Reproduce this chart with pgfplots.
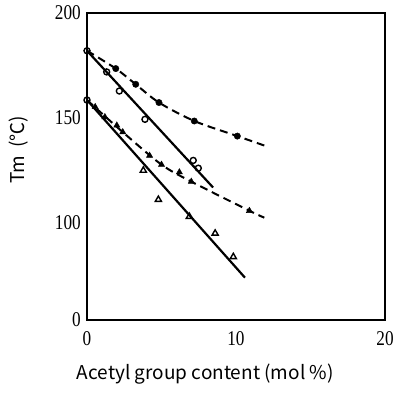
\documentclass[border=0pt]{standalone}
\usepackage{fontspec}
\setmainfont{Liberation Serif}
\newfontfamily\tickfont[FakeStretch=0.82]{Liberation Serif}
\newfontfamily\cjk{Noto Sans CJK JP}
\usepackage{pgfplots}
\pgfplotsset{compat=1.18}
\begin{document}
\begin{tikzpicture}
\begin{axis}[
  scale only axis, width=298pt, height=307pt,
  xmin=0, xmax=20, ymin=53.6, ymax=200,
  xtick={0,10,20}, xticklabels={0,10,20},
  ytick={53.6,100,150,200}, yticklabels={0,100,150,200},
  major tick length=0pt,
  axis line style={line width=2pt},
  ticklabel style={font=\tickfont\fontsize{21}{21}\selectfont, inner sep=2pt},
  xticklabel style={yshift=-9pt},
  yticklabel style={xshift=-4pt},
  xlabel={\cjk\fontsize{19}{19}\selectfont Acetyl group content (mol \%)},
  xlabel style={at={(axis description cs:0.397,0)}, anchor=north, yshift=-44pt, inner sep=0pt},
  ylabel={\cjk\fontsize{19}{19}\selectfont Tm\hspace{8pt}(℃)},
  ylabel style={at={(axis description cs:0,0.554)}, anchor=south, yshift=59pt, inner sep=0pt},
  clip=false,
]
% filled circles, dashed
\addplot[black, line width=2pt, dash pattern=on 8pt off 5pt, smooth, tension=0.5] coordinates {
 (0,182) (1.93,173.5) (3.27,166) (4.83,157.3) (7.2,148.5) (10.09,141.3) (11.9,136.8)};
\addplot[only marks, mark=*, mark size=3.2pt, black] coordinates {
 (1.93,173.5) (3.27,166) (4.83,157.3) (7.2,148.5) (10.09,141.3)};
% open circles, solid
\addplot[black, line width=2.2pt] coordinates {(0,182) (8.46,116.8)};
\addplot[only marks, mark=o, mark size=3pt, black, line width=1.4pt, mark options={fill=white}] coordinates {
 (0,182) (1.32,171.9) (2.17,162.8) (3.89,149.3) (7.13,129.7) (7.47,126)};
% filled triangles, dashed
\addplot[black, line width=2pt, dash pattern=on 8pt off 5pt, smooth, tension=0.5] coordinates {
 (0,158.5) (2.4,143.2) (5.0,127.7) (7.0,119.6) (10.9,105.7) (11.9,102.4)};
\addplot[only marks, mark=triangle*, mark size=3.6pt, black] coordinates {
 (0.55,155.2) (1.2,150.4) (2.0,146.4) (2.4,143.2) (4.2,132) (5.0,127.7) (6.2,124.1) (7.0,119.6) (10.9,105.7)};
% open triangles, solid
\addplot[black, line width=2.2pt] coordinates {(0,158.5) (10.6,73.8)};
\addplot[only marks, mark=triangle, mark size=3.6pt, black, line width=1.4pt, mark options={fill=white}] coordinates {
 (3.78,124.9) (4.79,111) (6.87,102.9) (8.6,94.9) (9.82,83.7)};
\addplot[only marks, mark=o, mark size=3pt, black, line width=1.4pt, mark options={fill=white}] coordinates {(0,158.5)};
\end{axis}
\pgfresetboundingbox
\path (-87pt,-72pt) rectangle (309pt,320pt);
\end{tikzpicture}
\end{document}
